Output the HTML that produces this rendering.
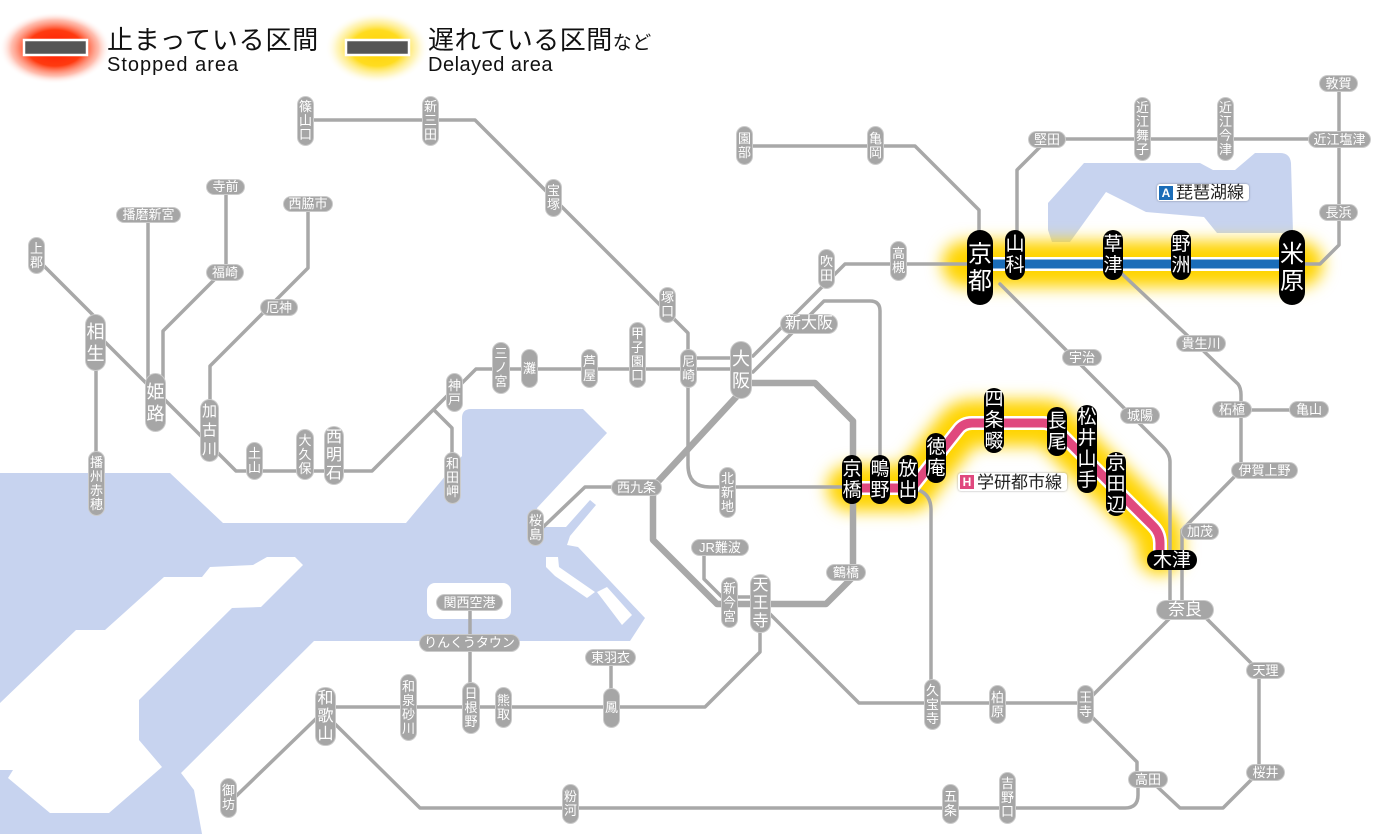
<!DOCTYPE html>
<html><head><meta charset="utf-8">
<style>
html,body{margin:0;padding:0;background:#fff}
#c{position:relative;width:1400px;height:834px;overflow:hidden;background:#fff;font-family:"Liberation Sans","Noto Sans CJK JP",sans-serif}
svg{position:absolute;left:0;top:0}
.g,.k{position:absolute;display:flex;align-items:center;justify-content:center;text-align:center;white-space:nowrap;color:#fff;font-family:"Liberation Sans","Noto Sans CJK JP",sans-serif}
.g{background:#a6a6a6;border-radius:8px;font-size:13px;line-height:14px;box-shadow:0 0 0 1px #cbcbcb}
.m{font-size:16px;line-height:18px;border-radius:9px}
.l{font-size:18px;line-height:22px;border-radius:10px}
.k{background:#000;border-radius:10px;font-size:19px;line-height:21px}
.xl{font-size:24px;line-height:27px;border-radius:13px}
.t{position:absolute;color:#111;font-family:"Liberation Sans","Noto Sans CJK JP",sans-serif;white-space:nowrap}
.lb{position:absolute;background:#fff;border-radius:3px;box-shadow:0 0 2px rgba(0,0,0,.35);display:flex;align-items:center;color:#222;font-size:17px;line-height:17px;white-space:nowrap;font-family:"Liberation Sans","Noto Sans CJK JP",sans-serif}
.sq{display:inline-block;width:14px;height:14px;color:#fff;font-size:12px;line-height:14px;text-align:center;font-weight:bold;margin:0 3px 0 2px}
</style></head><body>
<div id="c">
<svg width="1400" height="834" viewBox="0 0 1400 834">
<defs>
<radialGradient id="rg"><stop offset="0" stop-color="#ff1a00"/><stop offset=".5" stop-color="#ff3a10"/><stop offset=".78" stop-color="#ff8a70" stop-opacity=".55"/><stop offset="1" stop-color="#fff" stop-opacity="0"/></radialGradient>
<radialGradient id="yg"><stop offset="0" stop-color="#ffd000"/><stop offset=".5" stop-color="#ffdc20"/><stop offset=".78" stop-color="#ffee90" stop-opacity=".55"/><stop offset="1" stop-color="#fff" stop-opacity="0"/></radialGradient>
<filter id="bl" filterUnits="userSpaceOnUse" x="0" y="0" width="1400" height="834"><feGaussianBlur stdDeviation="8"/></filter>
</defs>
<!-- water -->
<g fill="#c7d3ef">
<path d="M0,473 L170,473 L223,523 L406,523 L462,456 L462,418 Q462,409 471,409 L583,409 L607,433 L537,508 L543,527 L566,527 L590,500 L596,505 L570,536 L567,545 L578,547 L645,618 L632,638 L630,641 L314,641 L181,773 L194,790 L202,834 L0,834 Z"/>
<path d="M1048,203 L1084,163 L1200,163 L1213,170 L1235,170 L1255,153 L1280,153 Q1290,153 1291,163 L1293,233 L1217,233 L1204,217 L1146,212 L1106,192 L1088,217 L1070,242 L1052,242 L1048,230 Z"/>
</g>
<g fill="#fff">
<path d="M0,703 L76,630 L105,630 L164,577 L202,577 L210,567 L253,565 L267,557 L295,557 L303,565 L261,607 L232,608 L139,700 L139,740 L162,767 L109,813 L50,813 L8,778 L13,770 L0,770 Z"/>
<path d="M546,557 L558,557 L559,567 L595,592 L587,598 L555,576 L546,567 Z"/>
<path d="M597,592 L607,587 L632,615 L622,625 Z"/>
<rect x="427" y="583" width="84" height="36" rx="8"/>
</g>
<!-- glows -->
<g filter="url(#bl)" fill="none" stroke="#ffd400" stroke-width="46" stroke-linecap="round" stroke-linejoin="round">
<path d="M965,264 H1300"/>
<path d="M850,488 H912 L958,430 Q963,423 972,423 H1043 Q1050,423 1055,428 L1153,526 Q1160,533 1160,543 V552"/>
</g>
<!-- gray lines -->
<g fill="none" stroke="#a8a8a8" stroke-width="3.5" stroke-linejoin="round" stroke-linecap="round">
<path d="M36,258 L100,322"/>
<path d="M96,333 L155,392"/>
<path d="M96,340 V480"/>
<path d="M148,215 V390"/>
<path d="M226,187 V268 L163,331 V390"/>
<path d="M308,204 V268 L210,366 V430"/>
<path d="M150,385 L209,444 L236,471 H372 L450,393"/>
<path d="M447,398 L476,369 H740"/>
<path d="M434,410 L452,428 V480"/>
<path d="M688,358 H740"/>
<path d="M305,120 H475 L688,333 V465 Q688,487 710,487 H853"/>
<path d="M744,146 H915 L979,210 V240"/>
<path d="M975,264 H845 L753,356"/>
<path d="M753,372 L824,301 H870 Q880,301 880,311 V470"/>
<path d="M905,488 Q931,488 931,510 V705"/>
<path d="M704,553 V579 L722,597 H760"/>
<path d="M760,630 V652 L705,707 H330"/>
<path d="M768,612 L859,703 H1085 L1175,613"/>
<path d="M1085,710 L1137,762 V775"/>
<path d="M1138,785 V795 Q1138,808 1125,808 H420 L333,722"/>
<path d="M1150,780 L1180,808 H1223 L1255,776"/>
<path d="M1259,670 V772"/>
<path d="M1200,612 L1252,664"/>
<path d="M323,712 L232,800"/>
<path d="M611,658 V705"/>
<path d="M470,602 V705"/>
<path d="M1000,284 L1163,447 Q1170,454 1170,462 V610"/>
<path d="M1120,272 L1190,338 L1238,384 Q1241,388 1241,395 V470 L1182,530 V610"/>
<path d="M1232,410 H1309"/>
<path d="M1047,139 H1339"/>
<path d="M1045,142 L1017,170 V245"/>
<path d="M1339,83 V245 L1320,264 H1295"/>
<path d="M640,487 H585 L540,530"/>
<path stroke-width="6.5" d="M745,383 H815 L853,421 V577 L826,604 H717 L653,540 V487 L738,395"/>
</g>
<!-- colored bands -->
<g fill="none" stroke-linejoin="round">
<path d="M983,264 H1292" stroke="#fff" stroke-width="14"/>
<path d="M983,264 H1292" stroke="#1b6db8" stroke-width="9"/>
<path d="M843,488 H912 L958,430 Q963,423 972,423 H1043 Q1050,423 1055,428 L1153,526 Q1160,533 1160,543 V558" stroke="#fff" stroke-width="14"/>
<path d="M843,488 H912 L958,430 Q963,423 972,423 H1043 Q1050,423 1055,428 L1153,526 Q1160,533 1160,543 V558" stroke="#e0487e" stroke-width="9"/>
</g>
<!-- legend -->
<ellipse cx="55" cy="48" rx="56" ry="36" fill="url(#rg)"/>
<ellipse cx="377" cy="48" rx="52" ry="36" fill="url(#yg)"/>
<rect x="24" y="40" width="63" height="15" fill="#555" stroke="#fff" stroke-width="2.5"/>
<rect x="346" y="40" width="63" height="15" fill="#555" stroke="#fff" stroke-width="2.5"/>
</svg>

<div class="t" style="left:107px;top:27px;font-size:26px;line-height:26px;letter-spacing:.8px">止まっている区間</div>
<div class="t" style="left:107px;top:55px;font-size:20px;line-height:20px;letter-spacing:1px">Stopped area</div>
<div class="t" style="left:428px;top:27px;font-size:26px;line-height:26px;letter-spacing:.5px">遅れている区間<span style="font-size:19px">など</span></div>
<div class="t" style="left:428px;top:55px;font-size:20px;line-height:20px;letter-spacing:.5px">Delayed area</div>

<div class="lb" style="left:1157px;top:184px;width:92px;height:17px"><span class="sq" style="background:#1b6db8">A</span>琵琶湖線</div>
<div class="lb" style="left:958px;top:473px;width:109px;height:18px"><span class="sq" style="background:#e0487e">H</span>学研都市線</div>

<!-- small vertical -->
<div class="g" style="left:298px;top:97px;width:15px;height:48px">篠<br>山<br>口</div>
<div class="g" style="left:423px;top:97px;width:15px;height:48px">新<br>三<br>田</div>
<div class="g" style="left:546px;top:180px;width:15px;height:36px">宝<br>塚</div>
<div class="g" style="left:660px;top:288px;width:15px;height:34px">塚<br>口</div>
<div class="g" style="left:737px;top:127px;width:15px;height:37px">園<br>部</div>
<div class="g" style="left:868px;top:127px;width:15px;height:37px">亀<br>岡</div>
<div class="g" style="left:1135px;top:98px;width:15px;height:62px">近<br>江<br>舞<br>子</div>
<div class="g" style="left:1218px;top:98px;width:15px;height:62px">近<br>江<br>今<br>津</div>
<div class="g" style="left:819px;top:250px;width:15px;height:38px">吹<br>田</div>
<div class="g" style="left:891px;top:242px;width:15px;height:38px">高<br>槻</div>
<div class="g" style="left:29px;top:238px;width:15px;height:35px">上<br>郡</div>
<div class="g" style="left:89px;top:452px;width:15px;height:63px">播<br>州<br>赤<br>穂</div>
<div class="g" style="left:247px;top:443px;width:15px;height:36px">土<br>山</div>
<div class="g" style="left:297px;top:430px;width:16px;height:49px">大<br>久<br>保</div>
<div class="g" style="left:447px;top:374px;width:15px;height:37px">神<br>戸</div>
<div class="g" style="left:445px;top:453px;width:15px;height:50px">和<br>田<br>岬</div>
<div class="g" style="left:493px;top:343px;width:16px;height:50px">三<br>ノ<br>宮</div>
<div class="g" style="left:522px;top:350px;width:15px;height:37px">灘</div>
<div class="g" style="left:582px;top:350px;width:15px;height:37px">芦<br>屋</div>
<div class="g" style="left:630px;top:323px;width:15px;height:64px">甲<br>子<br>園<br>口</div>
<div class="g" style="left:681px;top:350px;width:15px;height:37px">尼<br>崎</div>
<div class="g" style="left:720px;top:468px;width:15px;height:49px">北<br>新<br>地</div>
<div class="g" style="left:528px;top:510px;width:15px;height:35px">桜<br>島</div>
<div class="g" style="left:722px;top:578px;width:15px;height:49px">新<br>今<br>宮</div>
<div class="g" style="left:925px;top:680px;width:15px;height:49px">久<br>宝<br>寺</div>
<div class="g" style="left:990px;top:686px;width:15px;height:37px">柏<br>原</div>
<div class="g" style="left:1078px;top:686px;width:15px;height:37px">王<br>寺</div>
<div class="g" style="left:1000px;top:773px;width:15px;height:50px">吉<br>野<br>口</div>
<div class="g" style="left:943px;top:785px;width:15px;height:38px">五<br>条</div>
<div class="g" style="left:563px;top:785px;width:15px;height:38px">粉<br>河</div>
<div class="g" style="left:221px;top:779px;width:15px;height:38px">御<br>坊</div>
<div class="g" style="left:401px;top:675px;width:15px;height:65px">和<br>泉<br>砂<br>川</div>
<div class="g" style="left:463px;top:683px;width:16px;height:50px">日<br>根<br>野</div>
<div class="g" style="left:496px;top:688px;width:15px;height:39px">熊<br>取</div>
<div class="g" style="left:604px;top:689px;width:15px;height:38px">鳳</div>

<!-- small horizontal -->
<div class="g" style="left:207px;top:180px;width:37px;height:14px">寺前</div>
<div class="g" style="left:284px;top:197px;width:48px;height:14px">西脇市</div>
<div class="g" style="left:117px;top:208px;width:63px;height:14px">播磨新宮</div>
<div class="g" style="left:207px;top:265px;width:36px;height:15px">福崎</div>
<div class="g" style="left:261px;top:300px;width:36px;height:15px">厄神</div>
<div class="g" style="left:1029px;top:132px;width:36px;height:15px">堅田</div>
<div class="g" style="left:1309px;top:132px;width:61px;height:15px">近江塩津</div>
<div class="g" style="left:1320px;top:76px;width:37px;height:15px">敦賀</div>
<div class="g" style="left:1320px;top:205px;width:37px;height:15px">長浜</div>
<div class="g" style="left:1063px;top:350px;width:38px;height:15px">宇治</div>
<div class="g" style="left:1121px;top:408px;width:38px;height:15px">城陽</div>
<div class="g" style="left:1177px;top:336px;width:48px;height:15px">貴生川</div>
<div class="g" style="left:1213px;top:402px;width:38px;height:15px">柘植</div>
<div class="g" style="left:1290px;top:402px;width:38px;height:15px">亀山</div>
<div class="g" style="left:1232px;top:463px;width:65px;height:15px">伊賀上野</div>
<div class="g" style="left:1182px;top:524px;width:36px;height:15px">加茂</div>
<div class="g" style="left:612px;top:480px;width:49px;height:15px">西九条</div>
<div class="g" style="left:692px;top:540px;width:56px;height:15px">JR難波</div>
<div class="g" style="left:827px;top:565px;width:38px;height:15px">鶴橋</div>
<div class="g" style="left:586px;top:650px;width:49px;height:15px">東羽衣</div>
<div class="g" style="left:437px;top:595px;width:65px;height:15px">関西空港</div>
<div class="g" style="left:420px;top:635px;width:99px;height:16px">りんくうタウン</div>
<div class="g" style="left:1247px;top:663px;width:37px;height:15px">天理</div>
<div class="g" style="left:1247px;top:765px;width:37px;height:15px">桜井</div>
<div class="g" style="left:1129px;top:772px;width:38px;height:15px">高田</div>

<!-- medium / large gray -->
<div class="g m" style="left:201px;top:400px;width:17px;height:61px;font-size:15px;line-height:19px">加<br>古<br>川</div>
<div class="g m" style="left:325px;top:427px;width:18px;height:57px">西<br>明<br>石</div>
<div class="g m" style="left:751px;top:575px;width:19px;height:57px">天<br>王<br>寺</div>
<div class="g m" style="left:316px;top:688px;width:19px;height:57px">和<br>歌<br>山</div>
<div class="g l" style="left:86px;top:315px;width:19px;height:55px">相<br>生</div>
<div class="g l" style="left:146px;top:374px;width:19px;height:57px">姫<br>路</div>
<div class="g l" style="left:731px;top:342px;width:20px;height:56px">大<br>阪</div>
<div class="g m" style="left:781px;top:315px;width:56px;height:18px">新大阪</div>
<div class="g m" style="left:1157px;top:601px;width:56px;height:18px;font-size:17px">奈良</div>

<!-- black stations -->
<div class="k xl" style="left:967px;top:230px;width:26px;height:75px">京<br>都</div>
<div class="k xl" style="left:1279px;top:230px;width:26px;height:75px">米<br>原</div>
<div class="k" style="left:1005px;top:230px;width:20px;height:50px">山<br>科</div>
<div class="k" style="left:1103px;top:230px;width:20px;height:50px">草<br>津</div>
<div class="k" style="left:1171px;top:230px;width:20px;height:50px">野<br>洲</div>
<div class="k" style="left:842px;top:455px;width:20px;height:49px">京<br>橋</div>
<div class="k" style="left:870px;top:455px;width:20px;height:49px">鴫<br>野</div>
<div class="k" style="left:898px;top:455px;width:20px;height:49px">放<br>出</div>
<div class="k" style="left:926px;top:433px;width:20px;height:50px">徳<br>庵</div>
<div class="k" style="left:984px;top:388px;width:20px;height:65px">四<br>条<br>畷</div>
<div class="k" style="left:1047px;top:407px;width:20px;height:49px">長<br>尾</div>
<div class="k" style="left:1077px;top:405px;width:20px;height:88px">松<br>井<br>山<br>手</div>
<div class="k" style="left:1106px;top:452px;width:20px;height:64px">京<br>田<br>辺</div>
<div class="k" style="left:1147px;top:550px;width:50px;height:20px">木津</div>
</div>
</body></html>
